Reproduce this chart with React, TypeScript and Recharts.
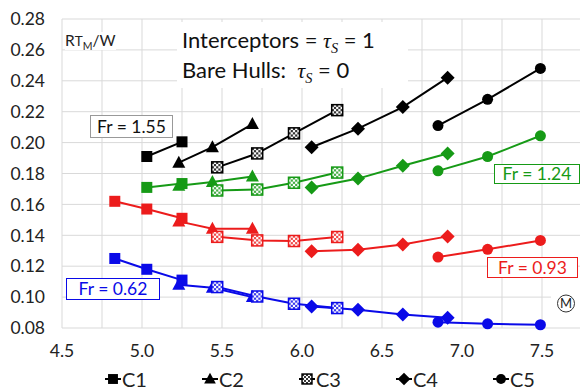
import React from "react";
import {CartesianGrid, Line, LineChart, XAxis, YAxis} from "recharts";

// hull families and their marker shapes
const hulls = ["C1", "C2", "C3", "C4", "C5"];
const hullShapes = ["square", "triangle", "checker", "diamond", "circle"];

// x positions of the runs for each hull
const c1X = [4.83, 5.03, 5.25];
const c2X = [5.23, 5.44, 5.69];
const c3X = [5.47, 5.72, 5.95, 6.22];
const c4X = [6.06, 6.35, 6.63, 6.91];
const c5X = [6.85, 7.16, 7.49];
const hullX = [c1X, c2X, c3X, c4X, c5X];

// RT/W per hull, one block per Froude number (null = no run)
const fr155 = [
    [null, 0.191, 0.2005],
    [0.187, 0.197, 0.212],
    [0.184, 0.193, 0.206, 0.221],
    [0.197, 0.209, 0.223, 0.242],
    [0.211, 0.228, 0.248],
];
const fr124 = [
    [null, 0.171, 0.1735],
    [0.172, 0.1745, 0.178],
    [0.169, 0.1696, 0.174, 0.1806],
    [0.171, 0.1767, 0.185, 0.193],
    [0.1817, 0.191, 0.2044],
];
const fr093 = [
    [0.162, 0.157, 0.151],
    [0.149, 0.1443, 0.1443],
    [0.139, 0.1367, 0.1363, 0.1389],
    [0.1296, 0.1307, 0.134, 0.1393],
    [0.1259, 0.1309, 0.1367],
];
const fr062 = [
    [0.125, 0.118, 0.111],
    [0.108, 0.106, 0.1],
    [0.1065, 0.1004, 0.0957, 0.0929],
    [0.0939, 0.0918, 0.0888, 0.0866],
    [0.0838, 0.0827, 0.0821],
];

const froudes = ["1.55", "1.24", "0.93", "0.62"];
const froudeValues = [fr155, fr124, fr093, fr062];
const froudeColors = ["#000000", "#169a16", "#ec1c1c", "#0a0ae8"];

const xTicks = [4.5, 4.75, 5, 5.25, 5.5, 5.75, 6, 6.25, 6.5, 6.75, 7, 7.25, 7.5, 7.75];
const yTicks = [0.08, 0.1, 0.12, 0.14, 0.16, 0.18, 0.2, 0.22, 0.24, 0.26, 0.28];

const FONT = "Lato, 'Open Sans', sans-serif";

function Marker({shape, cx, cy, color, s = 1}: {shape: string, cx: number, cy: number, color: string, s?: number}) {
    if (cx == null || cy == null) return null;
    switch (shape) {
        case "square":
            return <rect x={cx - 5.5 * s} y={cy - 5.5 * s} width={11 * s} height={11 * s} fill={color}/>;
        case "triangle":
            return <polygon points={`${cx},${cy - 7 * s} ${cx + 6.5 * s},${cy + 5 * s} ${cx - 6.5 * s},${cy + 5 * s}`}
                            fill={color}/>;
        case "diamond":
            return <polygon points={`${cx},${cy - 7 * s} ${cx + 7 * s},${cy} ${cx},${cy + 7 * s} ${cx - 7 * s},${cy}`}
                            fill={color}/>;
        case "circle":
            return <circle cx={cx} cy={cy} r={5.5 * s} fill={color}/>;
        default: {
            // checkered square
            const size = 11 * s;
            const cell = size / 5;
            const cells = [];
            for (let i = 0; i < 5; i++)
                for (let j = 0; j < 5; j++)
                    if ((i + j) % 2 === 0)
                        cells.push(<rect key={`${i}-${j}`} x={cx - size / 2 + i * cell} y={cy - size / 2 + j * cell}
                                         width={cell} height={cell} fill={color} opacity={0.8}/>);
            return (
                <g>
                    <rect x={cx - size / 2} y={cy - size / 2} width={size} height={size} fill="#fff"/>
                    {cells}
                    <rect x={cx - size / 2} y={cy - size / 2} width={size} height={size} fill="none"
                          stroke={color} strokeWidth={1.5}/>
                </g>
            );
        }
    }
}

const series = froudeValues.flatMap((block, f) =>
    block.map((vals, h) => ({
        key: `fr${froudes[f]}-${hulls[h]}`,
        color: froudeColors[f],
        shape: hullShapes[h],
        points: hullX[h].map((x, i) => ({x, y: vals[i]})).filter(p => p.y != null),
    }))
);

const Tau = () => (
    <span style={{fontFamily: "'Liberation Serif', serif", fontStyle: "italic"}}>
        τ<span style={{fontSize: "0.65em", position: "relative", top: "0.35em"}}>S</span>
    </span>
);

function FrBox({text, color, border, left, top, width, height}: any) {
    return (
        <div style={{
            position: "absolute", left, top, width, height, boxSizing: "border-box",
            border: `1px solid ${border}`, background: "#fff", color, fontSize: 17.5,
            display: "flex", alignItems: "center", justifyContent: "center", lineHeight: 1,
        }}>{text}</div>
    );
}

export default function App() {
    return (
        <div style={{
            position: "absolute", left: 0, top: 0, width: 580, height: 391, overflow: "hidden",
            background: "#fff", fontFamily: FONT,
        }}>
            <LineChart width={600} height={391} margin={{top: 19, right: 18, left: 12, bottom: 33}}>
                <CartesianGrid stroke="#d9d9d9" strokeWidth={1}/>
                <XAxis type="number" dataKey="x" domain={[4.5, 7.75]} ticks={xTicks} allowDataOverflow
                       tickFormatter={(v: number) => (Math.round(v * 2) === v * 2 ? v.toFixed(1) : "")}
                       axisLine={false} tickLine={false} tickSize={0} tickMargin={17} height={30}
                       tick={{fill: "#222", fontSize: 17.5, fontFamily: FONT}}/>
                <YAxis type="number" domain={[0.08, 0.28]} ticks={yTicks} width={50}
                       tickFormatter={(v: number) => v.toFixed(2)}
                       axisLine={false} tickLine={false} tickSize={0} tickMargin={17}
                       tick={{fill: "#222", fontSize: 17.5, fontFamily: FONT}}/>
                {series.map(s => (
                    <Line key={s.key} data={s.points} dataKey="y" type="linear" stroke={s.color} strokeWidth={2}
                          isAnimationActive={false}
                          dot={(p: any) => <Marker key={`${s.key}-${p.index}`} shape={s.shape} cx={p.cx} cy={p.cy}
                                                   color={s.color}/>}
                          activeDot={false}/>
                ))}
            </LineChart>

            <div style={{position: "absolute", left: 65, top: 32, fontSize: 15.5, background: "#fff", lineHeight: "16px", color: "#222"}}>
                R<span style={{fontSize: 13.5}}>T</span><span style={{fontSize: 10.5, position: "relative", top: 4}}>M</span>/W
            </div>

            <div style={{
                position: "absolute", left: 177, top: 22, width: 231, height: 66, background: "#fff",
                fontSize: 22, lineHeight: "30px", color: "#111", paddingLeft: 5, paddingTop: 3, boxSizing: "border-box",
            }}>
                <div style={{height: 30}}>Interceptors = <Tau/> = 1</div>
                <div style={{height: 30}}>Bare Hulls:&nbsp;&nbsp;<Tau/> = 0</div>
            </div>

            <FrBox text="Fr = 1.55" color="#111" border="#999" left={90} top={115} width={83} height={23}/>
            <FrBox text="Fr = 1.24" color={froudeColors[1]} border={froudeColors[1]} left={494} top={164} width={86} height={20}/>
            <FrBox text="Fr = 0.93" color={froudeColors[2]} border={froudeColors[2]} left={487} top={257} width={91} height={21}/>
            <FrBox text="Fr = 0.62" color={froudeColors[3]} border={froudeColors[3]} left={66} top={278} width={94} height={22}/>

            <div style={{position: "absolute", left: 551, top: 288, width: 29, height: 34, background: "#fff"}}>
                <svg width={29} height={34}>
                    <circle cx={15} cy={15.5} r={8.5} fill="#fff" stroke="#333" strokeWidth={1}/>
                    <text x={15} y={20} textAnchor="middle" fontSize={13} fontFamily={FONT} fill="#222">M</text>
                </svg>
            </div>

            <div style={{position: "absolute", left: 104, top: 369, display: "flex", gap: 54, fontSize: 20, color: "#222"}}>
                {hulls.map((h, i) => (
                    <div key={h} style={{display: "flex", alignItems: "center", lineHeight: 1}}>
                        <svg width={18} height={18}>
                            <line x1={1} y1={9} x2={17} y2={9} stroke="#000" strokeWidth={2}/>
                            <Marker shape={hullShapes[i]} cx={9} cy={9} color="#000" s={0.9}/>
                        </svg>
                        <span>{h}</span>
                    </div>
                ))}
            </div>
        </div>
    );
}
